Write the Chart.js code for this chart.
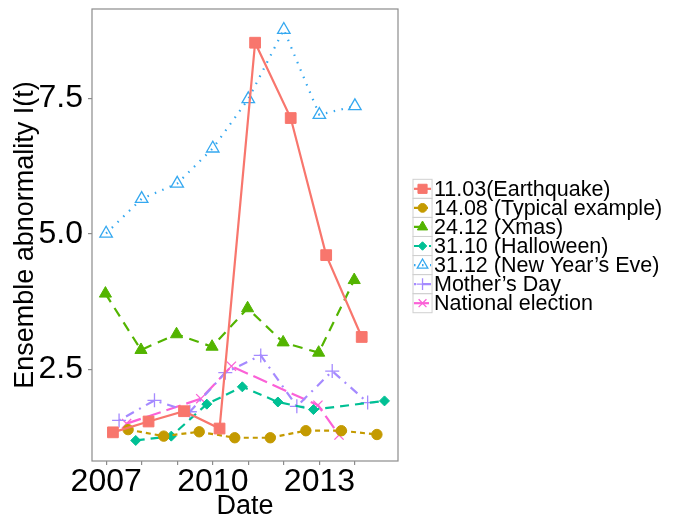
<!DOCTYPE html>
<html lang="en">
<head>
  <meta charset="UTF-8">
  <title>Ensemble abnormality</title>
  <script src="https://cdn.jsdelivr.net/npm/chart.js"></script>
  <style>
    body { margin: 0; background: #fff; }
    #wrap { width: 681px; height: 519px; }
  </style>
</head>
<body>
  <div id="wrap">
    <canvas id="abnChart" width="681" height="519"></canvas>
  </div>
  <script>
    // dates of each event, one list per series
    const eqDates = ['2007-03-11', '2008-03-11', '2009-03-11', '2010-03-11', '2011-03-11', '2012-03-11', '2013-03-11', '2014-03-11'];
    const eqVals = [1.34, 1.54, 1.73, 1.41, 8.53, 7.14, 4.61, 3.10];

    const typDates = ['2007-08-14', '2008-08-14', '2009-08-14', '2010-08-14', '2011-08-14', '2012-08-14', '2013-08-14', '2014-08-14'];
    const typVals = [1.39, 1.27, 1.35, 1.24, 1.24, 1.37, 1.37, 1.30];

    const xmasDates = ['2006-12-24', '2007-12-24', '2008-12-24', '2009-12-24', '2010-12-24', '2011-12-24', '2012-12-24', '2013-12-24'];
    const xmasVals = [3.90, 2.86, 3.15, 2.92, 3.63, 3.00, 2.81, 4.15];

    const hallDates = ['2007-10-31', '2008-10-31', '2009-10-31', '2010-10-31', '2011-10-31', '2012-10-31', '2014-10-31'];
    const hallVals = [1.19, 1.27, 1.86, 2.18, 1.90, 1.76, 1.92];

    const nyeDates = ['2006-12-31', '2007-12-31', '2008-12-31', '2009-12-31', '2010-12-31', '2011-12-31', '2012-12-31', '2013-12-31'];
    const nyeVals = [5.01, 5.65, 5.93, 6.58, 7.49, 8.77, 7.20, 7.36];

    const motherDates = ['2007-05-13', '2008-05-11', '2009-05-10', '2010-05-09', '2011-05-08', '2012-05-13', '2013-05-12', '2014-05-11'];
    const motherVals = [1.56, 1.93, 1.72, 2.44, 2.76, 1.82, 2.47, 1.89];

    const electDates = ['2007-07-29', '2009-08-30', '2010-07-11', '2012-12-16', '2013-07-21'];
    const electVals = [1.50, 1.96, 2.56, 1.84, 1.29];

    const seriesLabels = ['11.03(Earthquake)', '14.08 (Typical example)', '24.12 (Xmas)', '31.10 (Halloween)',
                          '31.12 (New Year\u2019s Eve)', 'Mother\u2019s Day', 'National election'];
    const yearTicks = [2007, 2008, 2009, 2010, 2011, 2012, 2013, 2014];
    const labelledYears = [2007, 2010, 2013];
    const yTicks = [2.5, 5.0, 7.5];

    const FONT = "'Liberation Sans', Arial, Helvetica, sans-serif";

    // date string -> decimal year
    function decYear(s) {
      const d = new Date(s + 'T00:00:00Z');
      const y = d.getUTCFullYear();
      const start = Date.UTC(y, 0, 1), end = Date.UTC(y + 1, 0, 1);
      return y + (d.getTime() - start) / (end - start);
    }
    function pts(dates, vals) {
      return dates.map((s, i) => ({ x: decYear(s), y: vals[i] }));
    }

    const styles = [
      { color: '#F8766D', dash: [], pointStyle: 'rect', radius: 7.6, fill: true },
      { color: '#C49A00', dash: [5, 4], pointStyle: 'circle', radius: 5.2, fill: true },
      { color: '#53B400', dash: [10, 7], pointStyle: 'triangle', radius: 7, fill: true },
      { color: '#00C094', dash: [9, 6], pointStyle: 'rectRot', radius: 5, fill: true },
      { color: '#35A8F0', dash: [1.5, 6.5], pointStyle: 'triangle', radius: 7.2, fill: false },
      { color: '#A58AFF', dash: [2, 6, 9, 6], pointStyle: 'cross', radius: 7, fill: false },
      { color: '#FB61D7', dash: [15, 6], pointStyle: 'crossRot', radius: 6.5, fill: false }
    ];
    const seriesData = [
      pts(eqDates, eqVals), pts(typDates, typVals), pts(xmasDates, xmasVals), pts(hallDates, hallVals),
      pts(nyeDates, nyeVals), pts(motherDates, motherVals), pts(electDates, electVals)
    ];

    const datasets = seriesLabels.map((lab, i) => {
      const st = styles[i];
      return {
        label: lab,
        data: seriesData[i],
        borderColor: st.color,
        backgroundColor: st.color,
        borderWidth: 2.2,
        borderDash: st.dash,
        tension: 0,
        pointStyle: st.pointStyle,
        pointRadius: st.radius,
        pointHoverRadius: st.radius,
        pointBorderWidth: st.fill ? 1 : 1.3,
        pointBorderColor: st.color,
        pointBackgroundColor: st.fill ? st.color : 'rgba(0,0,0,0)'
      };
    });

    // panel border + ggplot-like legend on the right
    const panelAndLegend = {
      id: 'panelAndLegend',
      afterDraw(chart) {
        const ctx = chart.ctx;
        const a = chart.chartArea;
        ctx.save();
        ctx.strokeStyle = '#8c8c8c';
        ctx.lineWidth = 1.2;
        ctx.strokeRect(a.left, a.top, a.right - a.left, a.bottom - a.top);

        const kx = 413, ky = 179.3, ks = 19.06;
        chart.data.datasets.forEach((ds, i) => {
          const st = styles[i];
          const top = ky + i * ks;
          const cy = top + ks / 2;
          ctx.setLineDash([]);
          ctx.strokeStyle = '#d0d0d0';
          ctx.lineWidth = 1;
          ctx.strokeRect(kx, top, ks, ks);
          // line sample
          ctx.strokeStyle = st.color;
          ctx.lineWidth = 2.2;
          ctx.setLineDash(st.dash);
          ctx.beginPath();
          ctx.moveTo(kx + 1, cy);
          ctx.lineTo(kx + ks - 1, cy);
          ctx.stroke();
          ctx.setLineDash([]);
          // point sample
          ctx.fillStyle = st.fill ? st.color : 'rgba(0,0,0,0)';
          ctx.strokeStyle = st.color;
          ctx.lineWidth = st.fill ? 1 : 1.3;
          Chart.helpers.drawPoint(ctx, {
            pointStyle: st.pointStyle, radius: st.radius * 0.85, rotation: 0,
            borderWidth: st.fill ? 1 : 1.3
          }, kx + ks / 2, cy);
          // label
          ctx.fillStyle = '#000';
          ctx.font = '21.5px ' + FONT;
          ctx.textAlign = 'left';
          ctx.textBaseline = 'middle';
          ctx.fillText(ds.label, 434, cy + 1);
        });
        ctx.restore();
      }
    };

    Chart.defaults.font.family = FONT;
    Chart.defaults.color = '#000';

    new Chart(document.getElementById('abnChart').getContext('2d'), {
      type: 'line',
      data: { datasets: datasets },
      options: {
        responsive: false,
        animation: false,
        devicePixelRatio: 1,
        layout: { padding: { left: 0, right: 283, top: 9, bottom: 0 } },
        plugins: {
          legend: { display: false },
          tooltip: { enabled: false }
        },
        scales: {
          x: {
            type: 'linear',
            min: 2006.6,
            max: 2015.21,
            afterBuildTicks: (scale) => { scale.ticks = yearTicks.map(v => ({ value: v })); },
            afterFit: (scale) => { scale.height = 58; scale.paddingLeft = 0; scale.paddingRight = 0; },
            ticks: {
              autoSkip: false,
              maxRotation: 0,
              padding: 1,
              font: { size: 32, lineHeight: 1 },
              callback: (v) => labelledYears.includes(v) ? String(v) : ''
            },
            grid: { drawOnChartArea: false, drawTicks: true, tickLength: 4, color: '#8c8c8c', lineWidth: 1.2 },
            border: { display: false },
            title: { display: true, text: 'Date', font: { size: 27, lineHeight: 1 }, padding: { top: 0, bottom: -1 } }
          },
          y: {
            min: 0.811,
            max: 9.152,
            afterBuildTicks: (scale) => { scale.ticks = yTicks.map(v => ({ value: v })); },
            afterFit: (scale) => { scale.width = 92; scale.paddingTop = 0; scale.paddingBottom = 0; },
            ticks: {
              padding: 5,
              font: { size: 32, lineHeight: 1 },
              callback: (v) => v.toFixed(1)
            },
            grid: { drawOnChartArea: false, drawTicks: true, tickLength: 4, color: '#8c8c8c', lineWidth: 1.2 },
            border: { display: false },
            title: { display: true, text: 'Ensemble abnormality I(t)', font: { size: 27, lineHeight: 1 }, padding: { top: 12, bottom: 0 } }
          }
        }
      },
      plugins: [panelAndLegend]
    });
  </script>
</body>
</html>
